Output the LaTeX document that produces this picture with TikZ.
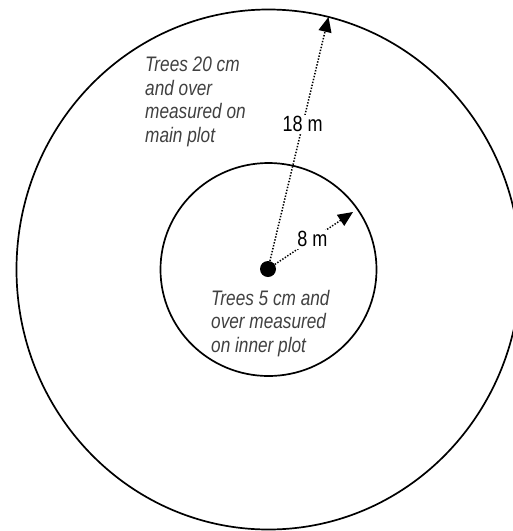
\documentclass[tikz,border=0pt]{standalone}
\usepackage{fontspec}
\setmainfont[FakeStretch=0.82]{Liberation Sans}
\usetikzlibrary{arrows.meta}
\begin{document}
\begin{tikzpicture}[x=1pt,y=-1pt,
  ring/.style={draw=black,line width=1.7pt},
  radius line/.style={line width=1.5pt,dash pattern=on 1.4pt off 1.6pt,
    -{Triangle[length=15pt,width=13pt]}},
  dimlabel/.style={fill=white,inner sep=1.5pt,font=\fontsize{22}{24}\selectfont},
  plotlabel/.style={align=left,anchor=north west,inner sep=0pt,text=black!75,
    font=\fontsize{21}{23.5}\selectfont\itshape}]
\useasboundingbox (0,0) rectangle (513,531);
\coordinate (ctr) at (268.5,269.5);
\draw[ring] (ctr) ellipse [x radius=252pt, y radius=260pt];
\draw[ring] (ctr) ellipse [x radius=108pt, y radius=106.5pt];
\node[circle,fill=black,inner sep=0pt,minimum size=16pt] (dot) at (268,269) {};
\coordinate (t18) at (328.5,17);
\coordinate (t8) at (353,212);
\draw[radius line] (dot) -- node[dimlabel,pos=0.56] (l18) {18 m} (t18);
\draw[radius line] (dot) -- node[dimlabel,pos=0.48] (l8) {8 m} (t8);
\node[plotlabel] (mainlbl) at (145,57) {Trees 20 cm\\and over\\measured on\\main plot};
\node[plotlabel] (innerlbl) at (211,290) {Trees 5 cm and\\over measured\\on inner plot};
\end{tikzpicture}
\end{document}
